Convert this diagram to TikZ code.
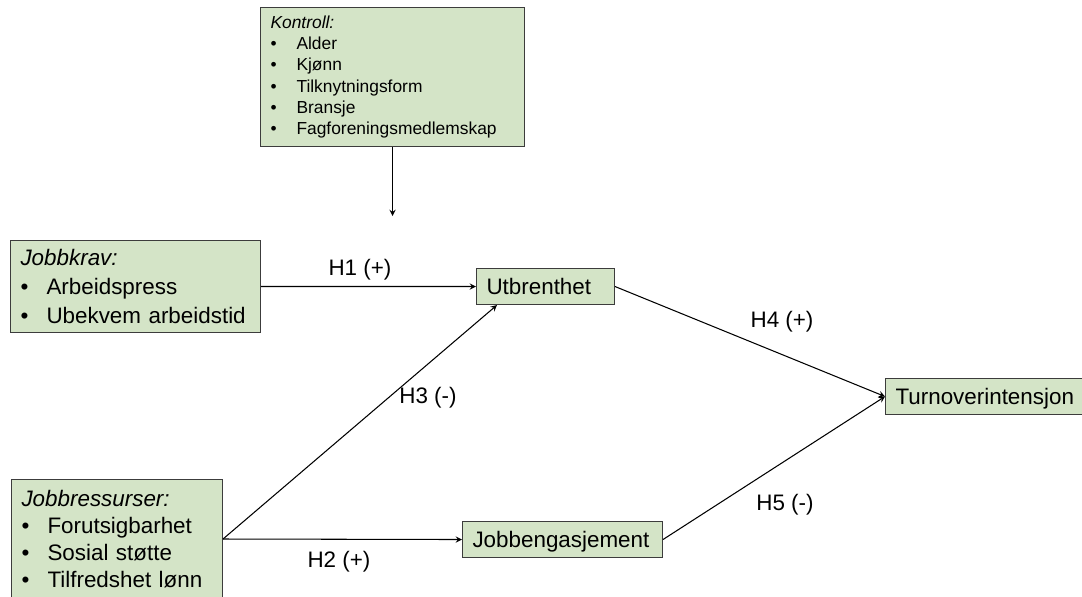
\documentclass[tikz,border=0pt]{standalone}
\usepackage{fontspec}
\setmainfont{Liberation Sans}
\usepackage{tikz}
\usetikzlibrary{shapes.geometric, arrows}
\definecolor{boxGreen}{RGB}{212,228,199}
\definecolor{boxLine}{RGB}{60,60,60}
\newcommand{\listItem}[1]{\makebox[0.52cm][l]{\textbullet}#1}
\tikzstyle{normalBox} = [shape=rectangle, draw=boxLine, fill=boxGreen, line width=0.6pt,
	align=left, inner xsep=0.2cm, inner ysep=0pt, anchor=north west]
\tikzstyle{ListBox} = [normalBox, font=\fontsize{12.75}{16.4}\selectfont]
\tikzstyle{SmallBox} = [normalBox, font=\fontsize{9.9}{12}\selectfont]
\tikzstyle{LineBox} = [normalBox, font=\fontsize{12.75}{15}\selectfont,
	text height=9.1pt, text depth=0pt, minimum height=0.72cm]
\tikzstyle{hypLabel} = [font=\fontsize{12.75}{15}\selectfont, inner sep=0pt]
\tikzstyle{normalArrow} = [line width=0.6pt,->,>=stealth]

\begin{document}
\begin{tikzpicture}[x=0.02cm, y=-0.02cm]
  \useasboundingbox (0,0) rectangle (1082,597);

  \node (KONTROLL) [SmallBox, text width=4.88cm, minimum height=2.78cm] at (260,7)
    {\textit{Kontroll:}\\ \listItem{Alder}\\ \listItem{Kjønn}\\
     \listItem{Tilknytningsform}\\ \listItem{Bransje}\\ \listItem{Fagforeningsmedlemskap}};
  \node (JOBBKRAV) [ListBox, text width=4.6cm, minimum height=1.84cm] at (10,240)
    {\textit{Jobbkrav:}\\ \listItem{Arbeidspress}\\ \listItem{Ubekvem arbeidstid}};
  \node (JOBBRES) [ListBox, font=\fontsize{12.75}{15.3}\selectfont, text width=3.82cm,
    minimum height=2.38cm] at (11,479)
    {\textit{Jobbressurser:}\\ \listItem{Forutsigbarhet}\\ \listItem{Sosial støtte}\\
     \listItem{Tilfredshet lønn}};
  \node (UTBRENT) [LineBox, text width=2.36cm] at (476,268) {Utbrenthet};
  \node (JOBBENG) [LineBox, text width=3.6cm] at (462,521) {Jobbengasjement};
  \node (TURN) [LineBox, text width=3.54cm] at (885,378) {Turnoverintensjon};
  \coordinate (KTIP) at ([yshift=-1.38cm]KONTROLL.south);

  \node (H1) [hypLabel] at (360,270) {H1 (+)};
  \node (H2) [hypLabel] at (339,562) {H2 (+)};
  \node (H3) [hypLabel] at (428,398) {H3 (-)};
  \node (H4) [hypLabel] at (782,322) {H4 (+)};
  \node (H5) [hypLabel] at (785,505) {H5 (-)};

  \draw [normalArrow] (KONTROLL.south) -- (KTIP);
  \draw [normalArrow] (JOBBKRAV) -- (UTBRENT);
  \draw [normalArrow] (JOBBRES.east) -- ([xshift=0.42cm]UTBRENT.south west);
  \draw [normalArrow] (JOBBRES.east) -- (JOBBENG.west);
  \draw [normalArrow] (UTBRENT.east) -- (TURN.west);
  \draw [normalArrow] (JOBBENG.east) -- (TURN.west);

\end{tikzpicture}
\end{document}
